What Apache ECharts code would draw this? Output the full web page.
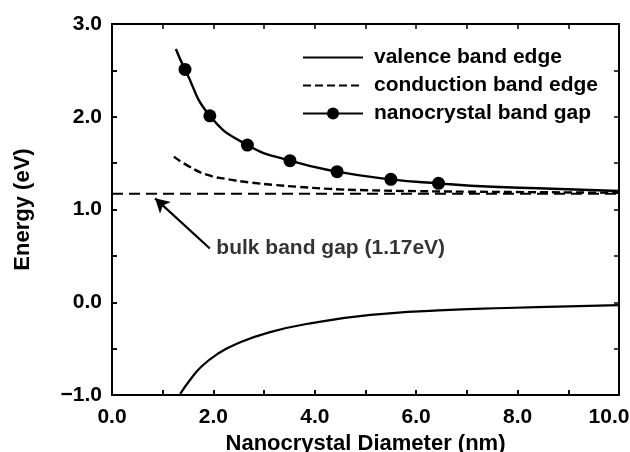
<!DOCTYPE html>
<html><head><meta charset="utf-8">
<script src="https://cdn.jsdelivr.net/npm/echarts@6/dist/echarts.min.js"></script>
<style>
html,body{margin:0;padding:0;background:#fff}
#wrap{position:relative;width:630px;height:452px}
#c,#f{position:absolute;left:0;top:0;width:630px;height:452px}
#f{pointer-events:none}
</style>
</head><body><div id="wrap"><div id="c"></div><div id="f"></div></div>
<script>
// ---- data ----
const valenceD = [1.345, 1.55, 1.77, 2.1, 2.43, 3.10, 3.97, 5.10, 6.44, 7.77, 9.0, 10.0];
const valenceE = [-0.987, -0.83, -0.69, -0.55, -0.455, -0.325, -0.222, -0.137, -0.088, -0.062, -0.045, -0.032];

const conductionD = [1.22, 1.5, 1.87, 2.3, 2.72, 3.2, 3.64, 4.3, 5.0, 6.0, 7.0, 8.0, 9.0, 10.0];
const conductionE = [1.57, 1.47, 1.375, 1.325, 1.292, 1.265, 1.246, 1.222, 1.208, 1.198, 1.192, 1.188, 1.184, 1.18];

const gapCurveD = [1.26, 7.5, 8.4, 10.0];
const gapCurveE = [2.73, 1.245, 1.229, 1.20];
const gapMarkerD = [1.44, 1.93, 2.67, 3.51, 4.44, 5.50, 6.44];
const gapMarkerE = [2.51, 2.01, 1.695, 1.526, 1.408, 1.325, 1.282];

const bulkD = [0, 10];
const bulkE = [1.17, 1.17];

const arrowTail = [1.93, 0.58];
const arrowHead = [0.85, 1.12];
const annotationText = 'bulk band gap (1.17eV)';

const seriesNames = ['valence band edge', 'conduction band edge', 'nanocrystal band gap'];
const xTickLabels = ['0.0', '2.0', '4.0', '6.0', '8.0', '10.0'];
const yTickLabels = ['\u22121.0', '0.0', '1.0', '2.0', '3.0'];
const xRange = [0, 10];
const yRange = [-1, 3];

// ---- build ----
const zip = (a, b) => a.map((v, i) => [v, b[i]]);
const gapData = zip(gapCurveD, gapCurveE).map(p => ({value: p, symbol: 'none'}))
  .concat(zip(gapMarkerD, gapMarkerE).map(p => ({value: p})))
  .sort((a, b) => a.value[0] - b.value[0]);

const FONT = '"Liberation Sans", Arial, Helvetica, sans-serif';
const black = '#000';
const gridBox = {left: 112, right: 11, top: 24, bottom: 57, outerBoundsMode: 'none'};

const axisCommon = () => ({
  type: 'value',
  axisLine: {show: true, onZero: false, lineStyle: {color: black, width: 2}},
  axisTick: {show: true, inside: true, length: 5, lineStyle: {color: black, width: 1.5}},
  minorTick: {show: true, splitNumber: 2, length: 5, lineStyle: {color: black, width: 1.5}},
  splitLine: {show: false}
});

// main chart
const chart = echarts.init(document.getElementById('c'), null, {renderer: 'canvas'});
chart.setOption({
  animation: false,
  backgroundColor: '#fff',
  textStyle: {fontFamily: FONT},
  grid: Object.assign({}, gridBox),
  legend: {
    data: [
      {name: seriesNames[0], itemStyle: {opacity: 0}},
      {name: seriesNames[1], itemStyle: {opacity: 0}},
      {name: seriesNames[2]}
    ],
    orient: 'vertical',
    left: 297, top: 42,
    itemWidth: 60, itemHeight: 15, itemGap: 7,
    textStyle: {fontFamily: FONT, fontSize: 21, fontWeight: 'bold', color: black, padding: [0, 0, 0, 6]},
    selectedMode: false
  },
  xAxis: Object.assign(axisCommon(), {
    min: xRange[0], max: xRange[1], interval: 2,
    name: 'Nanocrystal Diameter (nm)', nameLocation: 'middle', nameGap: 33,
    nameTextStyle: {fontFamily: FONT, fontSize: 22, fontWeight: 'bold', color: black},
    axisLabel: {
      fontFamily: FONT, fontSize: 21, fontWeight: 'bold', color: black, margin: 12,
      formatter: v => {
        const i = Math.round(v / 2);
        return i === xTickLabels.length - 1 ? '{m|' + xTickLabels[i] + '}' : xTickLabels[i];
      },
      rich: {m: {fontFamily: FONT, fontSize: 21, fontWeight: 'bold', color: black, padding: [0, 20, 0, 0]}}
    }
  }),
  yAxis: Object.assign(axisCommon(), {
    min: yRange[0], max: yRange[1], interval: 1,
    name: 'Energy (eV)', nameLocation: 'middle', nameGap: 78,
    nameTextStyle: {fontFamily: FONT, fontSize: 22, fontWeight: 'bold', color: black},
    axisLabel: {
      fontFamily: FONT, fontSize: 21, fontWeight: 'bold', color: black, margin: 10,
      formatter: v => yTickLabels[Math.round(v + 1)]
    }
  }),
  series: [
    {
      name: 'bulk band gap', type: 'line', data: zip(bulkD, bulkE), symbol: 'none',
      lineStyle: {color: black, width: 2, type: [11, 6]}, z: 2, silent: true,
      markLine: {
        silent: true, symbol: ['none', 'arrow'], symbolSize: [12, 14],
        lineStyle: {color: black, width: 2.2, type: 'solid'},
        label: {show: false},
        data: [[{coord: arrowTail}, {coord: arrowHead}]]
      }
    },
    {
      name: seriesNames[0], type: 'line', data: zip(valenceD, valenceE), symbol: 'none',
      smooth: 0.5,
      lineStyle: {color: black, width: 2.2}, itemStyle: {color: black}, z: 3
    },
    {
      name: seriesNames[1], type: 'line', data: zip(conductionD, conductionE), symbol: 'none',
      smooth: 0.5,
      lineStyle: {color: black, width: 2.4, type: [8, 4]}, itemStyle: {color: black}, z: 3
    },
    {
      name: seriesNames[2], type: 'line', data: gapData, symbol: 'circle', symbolSize: 13,
      showAllSymbol: true, smooth: 0.5,
      lineStyle: {color: black, width: 2.4}, itemStyle: {color: black}, z: 4
    },
    {
      name: 'annotation', type: 'scatter', data: [arrowTail], symbolSize: 1,
      itemStyle: {color: 'rgba(0,0,0,0)'}, silent: true,
      label: {
        show: true, position: 'right', distance: 6, formatter: annotationText,
        fontFamily: FONT, fontSize: 21, fontWeight: 'bold', color: black
      }
    }
  ]
});

// frame layer: top and right axes of the same plot box, drawn by a second, transparent ECharts instance
const frame = echarts.init(document.getElementById('f'), null, {renderer: 'canvas'});
frame.setOption({
  animation: false,
  grid: Object.assign({}, gridBox),
  xAxis: [
    Object.assign(axisCommon(), {min: xRange[0], max: xRange[1], interval: 2, axisLabel: {show: false}}),
    Object.assign(axisCommon(), {position: 'top', min: xRange[0], max: xRange[1], interval: 2, axisLabel: {show: false}})
  ],
  yAxis: [
    Object.assign(axisCommon(), {min: yRange[0], max: yRange[1], interval: 1, axisLabel: {show: false}}),
    Object.assign(axisCommon(), {position: 'right', min: yRange[0], max: yRange[1], interval: 1, axisLabel: {show: false}})
  ],
  series: [{type: 'line', data: [], silent: true}]
});
</script></body></html>
